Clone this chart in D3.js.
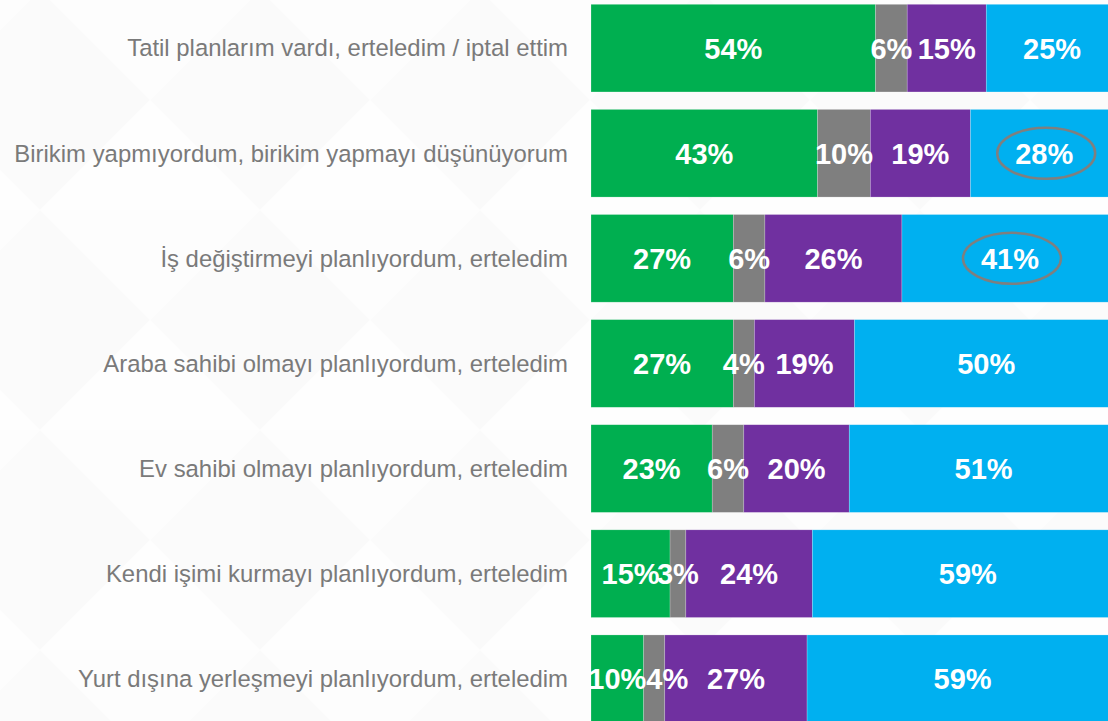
<!DOCTYPE html>
<html>
<head>
<meta charset="utf-8">
<script src="https://cdn.jsdelivr.net/npm/d3@7"></script>
<style>
  html, body { margin: 0; padding: 0; background: #ffffff; }
  svg { display: block; }
</style>
</head>
<body>
<svg id="chart" width="1108" height="721"></svg>
<script>
// Row labels, top to bottom
const categories = [
  "Tatil planlarım vardı, erteledim / iptal ettim",
  "Birikim yapmıyordum, birikim yapmayı düşünüyorum",
  "İş değiştirmeyi planlıyordum, erteledim",
  "Araba sahibi olmayı planlıyordum, erteledim",
  "Ev sahibi olmayı planlıyordum, erteledim",
  "Kendi işimi kurmayı planlıyordum, erteledim",
  "Yurt dışına yerleşmeyi planlıyordum, erteledim"
];

// Answer shares (%) per row, one array per stacked segment
const seriesGreen  = [54, 43, 27, 27, 23, 15, 10];
const seriesGray   = [6, 10, 6, 4, 6, 3, 4];
const seriesPurple = [15, 19, 26, 19, 20, 24, 27];
const seriesBlue   = [25, 28, 41, 50, 51, 59, 59];

// Rows whose blue value is circled
const circledRows = [1, 2];

const series = [
  { key: "green",  values: seriesGreen,  color: "#00AF50" },
  { key: "gray",   values: seriesGray,   color: "#7F7F7F" },
  { key: "purple", values: seriesPurple, color: "#7030A0" },
  { key: "blue",   values: seriesBlue,   color: "#00B0F0" }
];

const W = 1108, H = 721;
const svg = d3.select("#chart");

// Very faint geometric backdrop
const defs = svg.append("defs");
const pat = defs.append("pattern")
  .attr("id", "tri").attr("patternUnits", "userSpaceOnUse")
  .attr("width", 220).attr("height", 220).attr("x", 40).attr("y", -10);
pat.append("rect").attr("width", 220).attr("height", 220).attr("fill", "#ffffff");
pat.append("path").attr("d", "M0,0 L110,110 L0,220 Z").attr("fill", "#fafafa");
pat.append("path").attr("d", "M110,110 L220,0 L220,220 Z").attr("fill", "#fbfbfb");
pat.append("path").attr("d", "M0,0 L220,0 L110,110 Z").attr("fill", "#fdfdfd");
pat.append("path").attr("d", "M0,220 L110,110 L220,220 Z").attr("fill", "#fefefe");
svg.append("rect").attr("width", W).attr("height", H).attr("fill", "url(#tri)");

// Scales
const x = d3.scaleLinear().domain([0, 100]).range([591, 1118]);
const y = d3.scaleBand()
  .domain(categories)
  .range([4.3, 722.6])
  .paddingInner(0.166)
  .paddingOuter(0);

// Stack the four answer groups
const rows = categories.map((c, i) => {
  const r = { cat: c };
  series.forEach(s => { r[s.key] = s.values[i]; });
  return r;
});
const stacked = d3.stack().keys(series.map(s => s.key))(rows);

const layers = svg.append("g").selectAll("g")
  .data(stacked)
  .join("g")
  .attr("fill", (d, i) => series[i].color);

layers.selectAll("rect")
  .data(d => d)
  .join("rect")
  .attr("x", d => x(d[0]))
  .attr("y", d => y(d.data.cat))
  .attr("width", d => x(d[1]) - x(d[0]))
  .attr("height", y.bandwidth())
  .attr("stroke", "#ffffff")
  .attr("stroke-opacity", 0.35)
  .attr("stroke-width", 0.6);

// Value labels centred in each segment
const labels = svg.append("g")
  .attr("font-family", "Arial, 'Liberation Sans', sans-serif")
  .attr("font-weight", "bold")
  .attr("font-size", 29)
  .attr("fill", "#ffffff")
  .attr("text-anchor", "middle");

const labelNodes = categories.map(() => []);
stacked.forEach(layer => {
  layer.forEach((d, i) => {
    const t = labels.append("text")
      .attr("x", (x(d[0]) + x(d[1])) / 2)
      .attr("y", y(d.data.cat) + y.bandwidth() / 2)
      .attr("dy", "0.36em")
      .text((d[1] - d[0]) + "%");
    labelNodes[i].push(t);
  });
});

// Push a label rightwards when it collides badly with its left neighbour
labelNodes.forEach(list => {
  let prevRight = -Infinity;
  list.forEach(t => {
    const w = t.node().getComputedTextLength();
    let cx = +t.attr("x");
    const overlap = prevRight - (cx - w / 2);
    if (overlap > 6) { cx += overlap; t.attr("x", cx); }
    prevRight = cx + w / 2;
  });
});

// Ellipse highlights on selected blue values
const blueLayer = stacked[3];
svg.append("g").selectAll("ellipse")
  .data(circledRows.map(i => blueLayer[i]))
  .join("ellipse")
  .attr("cx", d => (x(d[0]) + x(d[1])) / 2 + 2)
  .attr("cy", d => y(d.data.cat) + y.bandwidth() / 2)
  .attr("rx", 49)
  .attr("ry", 25.5)
  .attr("fill", "none")
  .attr("stroke", "#7F7F7F")
  .attr("stroke-width", 2.5);

// Category labels on the left
svg.append("g")
  .attr("font-family", "Arial, 'Liberation Sans', sans-serif")
  .attr("font-size", 23.9)
  .attr("fill", "#7a7a7a")
  .attr("text-anchor", "end")
  .selectAll("text")
  .data(categories)
  .join("text")
  .attr("x", 568)
  .attr("y", d => y(d) + y.bandwidth() / 2)
  .attr("dy", "0.35em")
  .text(d => d);
</script>
</body>
</html>
